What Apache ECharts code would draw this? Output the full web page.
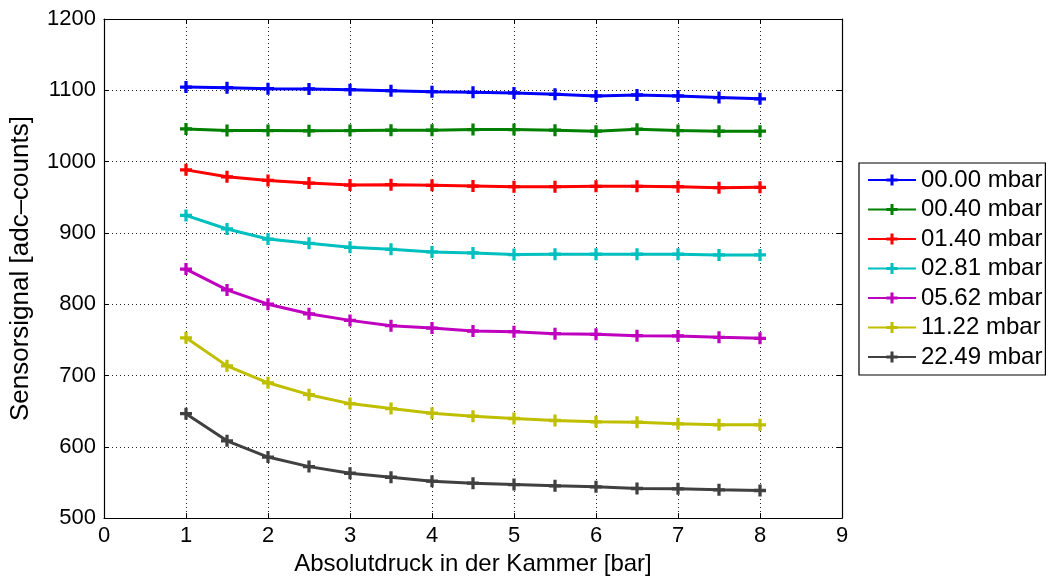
<!DOCTYPE html>
<html>
<head>
<meta charset="utf-8">
<style>
  html, body { margin: 0; padding: 0; background: #fff; }
  #chart { width: 1051px; height: 581px; }
</style>
<script src="https://cdn.jsdelivr.net/npm/echarts@6/dist/echarts.min.js"></script>
</head>
<body>
<div id="chart"></div>
<script>
// Absolute chamber pressure [bar]
const pressure = [1, 1.5, 2, 2.5, 3, 3.5, 4, 4.5, 5, 5.5, 6, 6.5, 7, 7.5, 8];

// Sensor signal [adc-counts] per differential pressure
const s0000 = [1104.6, 1103.7, 1102.3, 1101.9, 1100.9, 1099.5, 1098.1, 1097.2, 1096.3, 1094.4, 1092.1, 1093.5, 1092.1, 1089.8, 1088.0];
const s0040 = [1045.8, 1043.5, 1043.5, 1043.1, 1043.5, 1044.0, 1044.0, 1044.9, 1044.9, 1044.0, 1042.6, 1045.4, 1043.5, 1042.6, 1042.6];
const s0140 = [988.4, 978.7, 973.6, 969.9, 967.1, 967.6, 966.7, 965.7, 964.8, 964.8, 965.3, 965.3, 964.8, 963.4, 963.9];
const s0281 = [924.5, 905.5, 891.4, 885.4, 879.8, 877.0, 873.3, 871.9, 869.6, 870.1, 870.1, 870.1, 870.1, 869.1, 869.1];
const s0562 = [849.2, 820.0, 800.0, 786.5, 777.3, 769.8, 766.6, 762.4, 761.5, 758.7, 757.8, 755.9, 755.5, 753.6, 752.2];
const s1122 = [752.9, 713.5, 689.8, 673.1, 660.6, 653.6, 647.1, 642.9, 639.7, 636.9, 635.0, 634.6, 632.3, 630.9, 630.9];
const s2249 = [646.4, 608.4, 585.6, 572.2, 562.9, 557.3, 551.7, 549.0, 547.1, 545.2, 543.9, 541.5, 541.1, 539.7, 538.7];

const seriesNames = ['00.00 mbar', '00.40 mbar', '01.40 mbar', '02.81 mbar', '05.62 mbar', '11.22 mbar', '22.49 mbar'];
const seriesValues = [s0000, s0040, s0140, s0281, s0562, s1122, s2249];
const seriesColors = ['#0000ff', '#008000', '#ff0000', '#00bfbf', '#bf00bf', '#bfbf00', '#404040'];

// "+" marker as a filled cross outline
const plusSymbol = 'path://M4,0H7V4H11V7H7V11H4V7H0V4H4Z';

const FONT = 'Liberation Sans, Arial, Helvetica, sans-serif';

const chart = echarts.init(document.getElementById('chart'), null, { renderer: 'canvas' });

const series = seriesNames.map((name, i) => ({
  name: name,
  type: 'line',
  xAxisIndex: 0,
  yAxisIndex: 0,
  data: pressure.map((p, k) => [p, seriesValues[i][k]]),
  symbol: plusSymbol,
  symbolSize: 12,
  showSymbol: true,
  color: seriesColors[i],
  lineStyle: { width: 3, color: seriesColors[i] },
  itemStyle: { color: seriesColors[i], borderWidth: 0 },
  emphasis: { disabled: true },
  z: 3
}));

const boxAxisCommon = {
  axisLine: { show: true, onZero: false, lineStyle: { color: '#000', width: 1.2 } },
  axisTick: { show: true, inside: true, length: 5, lineStyle: { color: '#000', width: 1 } },
  axisLabel: { show: false },
  splitLine: { show: false }
};

const plainNumber = (v) => String(v);

chart.setOption({
  animation: false,
  backgroundColor: '#fff',
  grid: { left: 102, right: 209, top: 19, bottom: 60, containLabel: false },
  legend: {
    show: true,
    data: seriesNames,
    orient: 'vertical',
    left: 859,
    top: 163,
    padding: [5, 3, 6, 8],
    itemGap: 5.5,
    itemWidth: 48,
    itemHeight: 14,
    backgroundColor: '#fff',
    borderColor: '#000',
    borderWidth: 1.2,
    borderRadius: 0,
    textStyle: { fontFamily: FONT, fontSize: 24, color: '#000', lineHeight: 24, padding: [0, 0, 0, 0] },
    selectedMode: false
  },
  xAxis: [
    {
      type: 'value',
      min: 0, max: 9, interval: 1,
      position: 'bottom',
      name: 'Absolutdruck in der Kammer [bar]',
      nameLocation: 'middle',
      nameGap: 33,
      nameTextStyle: { fontFamily: FONT, fontSize: 24, color: '#000' },
      axisLine: { show: true, onZero: false, lineStyle: { color: '#000', width: 1.2 } },
      axisTick: { show: true, inside: true, length: 5, lineStyle: { color: '#000', width: 1 } },
      axisLabel: { show: true, margin: 7, fontFamily: FONT, fontSize: 22, color: '#000', formatter: plainNumber },
      splitLine: { show: true, lineStyle: { color: '#222', width: 1, type: [1, 3] } }
    },
    Object.assign({ type: 'value', min: 0, max: 9, interval: 1, position: 'top' }, boxAxisCommon)
  ],
  yAxis: [
    {
      type: 'value',
      min: 500, max: 1200, interval: 100,
      position: 'left',
      name: 'Sensorsignal [adc\u2013counts]',
      nameLocation: 'middle',
      nameGap: 70,
      nameTextStyle: { fontFamily: FONT, fontSize: 26, color: '#000' },
      axisLine: { show: true, onZero: false, lineStyle: { color: '#000', width: 1.2 } },
      axisTick: { show: true, inside: true, length: 5, lineStyle: { color: '#000', width: 1 } },
      axisLabel: { show: true, margin: 8, fontFamily: FONT, fontSize: 22, color: '#000', formatter: plainNumber },
      splitLine: { show: true, lineStyle: { color: '#222', width: 1, type: [1, 3] } }
    },
    Object.assign({ type: 'value', min: 500, max: 1200, interval: 100, position: 'right' }, boxAxisCommon)
  ],
  series: series
});
</script>
</body>
</html>
